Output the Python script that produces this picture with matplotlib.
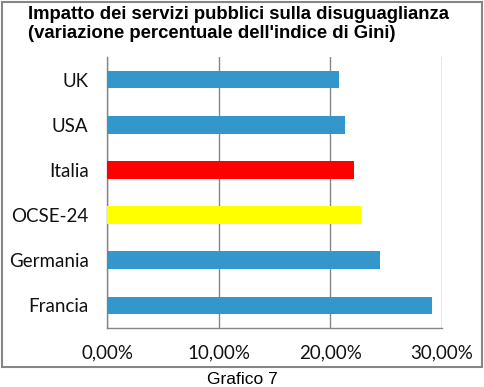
import matplotlib
matplotlib.use('Agg')
import matplotlib.pyplot as plt
from matplotlib.patches import Rectangle
from matplotlib.ticker import FuncFormatter

# data (top to bottom)
paesi = ['UK', 'USA', 'Italia', 'OCSE-24', 'Germania', 'Francia']
valori = [0.2075, 0.213, 0.221, 0.228, 0.245, 0.291]
colori = ['#3497CC', '#3497CC', '#FF0000', '#FFFF00', '#3497CC', '#3497CC']
xticks = [0.0, 0.10, 0.20, 0.30]

GRAY = '#868686'

fig = plt.figure(figsize=(4.85, 3.87), dpi=100)
ax = fig.add_axes([107.3 / 485, 1 - 328 / 387, (441.7 - 107.3) / 485, (328 - 57) / 387])

# outer chart frame
fig.patches.append(Rectangle((2 / 485, 1 - 367 / 387), 480 / 485, 365 / 387,
                             transform=fig.transFigure, fill=False,
                             edgecolor=GRAY, linewidth=1.5))

pos = list(range(len(paesi)))[::-1]
ax.barh(pos, valori, height=0.39, color=colori, zorder=3)

ax.set_xlim(0, 0.30)
ax.set_ylim(-0.5, len(paesi) - 0.5)
ax.set_xticks(xticks)
ax.xaxis.set_major_formatter(FuncFormatter(lambda v, p: f'{v * 100:.2f}%'.replace('.', ',')))
ax.set_yticks(pos)
ax.set_yticklabels(paesi)

ax.grid(axis='x', color=GRAY, linewidth=1.0, zorder=0)
ax.tick_params(length=0, labelsize=13.5, colors='#111111')
ax.tick_params(axis='x', pad=12)
ax.tick_params(axis='y', pad=13.5)
for lab in ax.get_xticklabels() + ax.get_yticklabels():
    lab.set_family('Lato')

for s in ['top', 'right']:
    ax.spines[s].set_visible(False)
for s in ['left', 'bottom']:
    ax.spines[s].set_color(GRAY)
    ax.spines[s].set_linewidth(1.0)

fig.text(28 / 485, 1 - 6 / 387,
         "Impatto dei servizi pubblici sulla disuguaglianza\n(variazione percentuale dell'indice di Gini)",
         ha='left', va='top', fontsize=13.3, fontweight='bold',
         family='Liberation Sans', linespacing=1.12)

fig.text(242 / 485, 1 - 379 / 387, 'Grafico 7', ha='center', va='center',
         fontsize=12.5, family='Liberation Sans')

fig.savefig('out.png', dpi=100)
